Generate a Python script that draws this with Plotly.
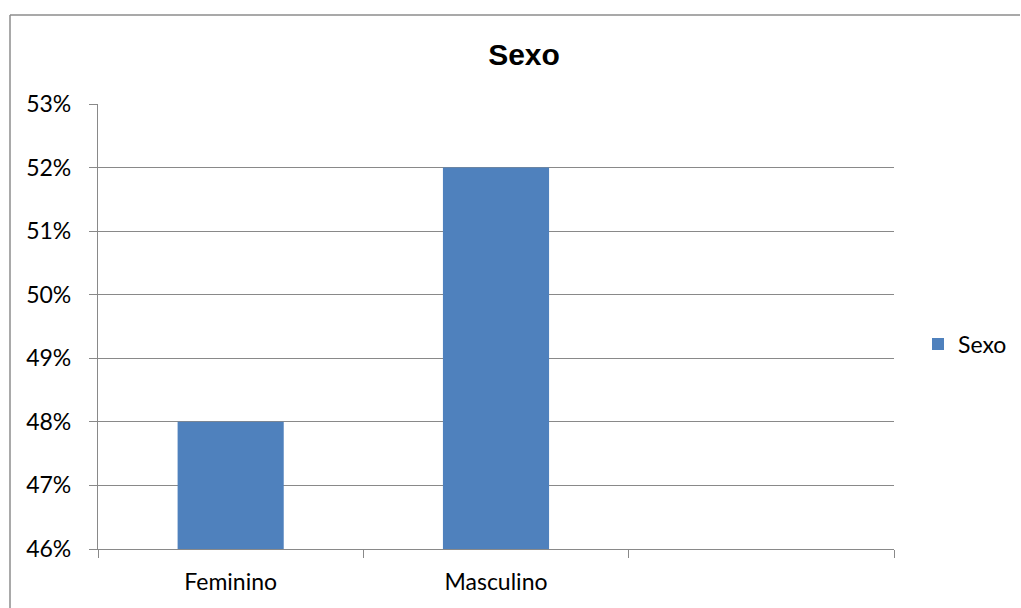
import plotly.graph_objects as go

categories = ["Feminino", "Masculino", " "]
values = [0.48, 0.52, None]
series_name = "Sexo"
title = "Sexo"

W, H = 1021, 608
L, R, T, B = 98, 894, 104, 549  # plot area in pixels
pw, ph = R - L, B - T

def px_x(x):
    return (x - L) / pw

def px_y(y):
    return (B - y) / ph

grid = "#898989"
font_family = "Lato, Carlito, Calibri, sans-serif"

fig = go.Figure()
fig.add_trace(go.Bar(
    x=categories, y=values, name=series_name,
    marker=dict(color="#4f81bd", line=dict(width=0)),
    showlegend=True,
))

fig.update_layout(
    width=W, height=H,
    margin=dict(l=L, r=W - R, t=T, b=H - B, autoexpand=False),
    paper_bgcolor="white", plot_bgcolor="white",
    bargap=0.6,
    title=dict(text="<b>" + title + "</b>", x=px_x(524), xref="paper", xanchor="center",
               y=1 - 54 / H, yanchor="middle",
               font=dict(family="Liberation Sans, Arial", size=30, color="black")),
    font=dict(family=font_family, size=23, color="black"),
    legend=dict(x=px_x(918), y=px_y(344), xanchor="left", yanchor="middle",
                font=dict(family=font_family, size=23, color="black"),
                bgcolor="rgba(0,0,0,0)", itemwidth=30),
    xaxis=dict(type="category", showgrid=False, showline=True, linecolor=grid, linewidth=1.3,
               ticks="outside", tickson="boundaries", ticklen=8, tickcolor=grid, tickwidth=1.3,
               ticklabelstandoff=12,
               tickfont=dict(family=font_family, size=23), range=[-0.5, 2.5]),
    yaxis=dict(range=[0.46, 0.53], dtick=0.01, tick0=0.46, tickformat=".0%",
               showgrid=True, gridcolor=grid, gridwidth=1.3, showline=True, linecolor=grid,
               linewidth=1.3,
               ticks="outside", ticklen=8, tickcolor=grid, tickwidth=1.3,
               ticklabelstandoff=13,
               tickfont=dict(family=font_family, size=23), zeroline=False),
    shapes=[
        dict(type="line", xref="paper", yref="paper", x0=px_x(10), x1=px_x(1020),
             y0=px_y(15), y1=px_y(15), line=dict(color="#8c8c8c", width=1.5)),
        dict(type="line", xref="paper", yref="paper", x0=px_x(10), x1=px_x(10),
             y0=px_y(15), y1=px_y(610), line=dict(color="#8c8c8c", width=1.5)),
    ],
)

fig.write_html("out.html")
